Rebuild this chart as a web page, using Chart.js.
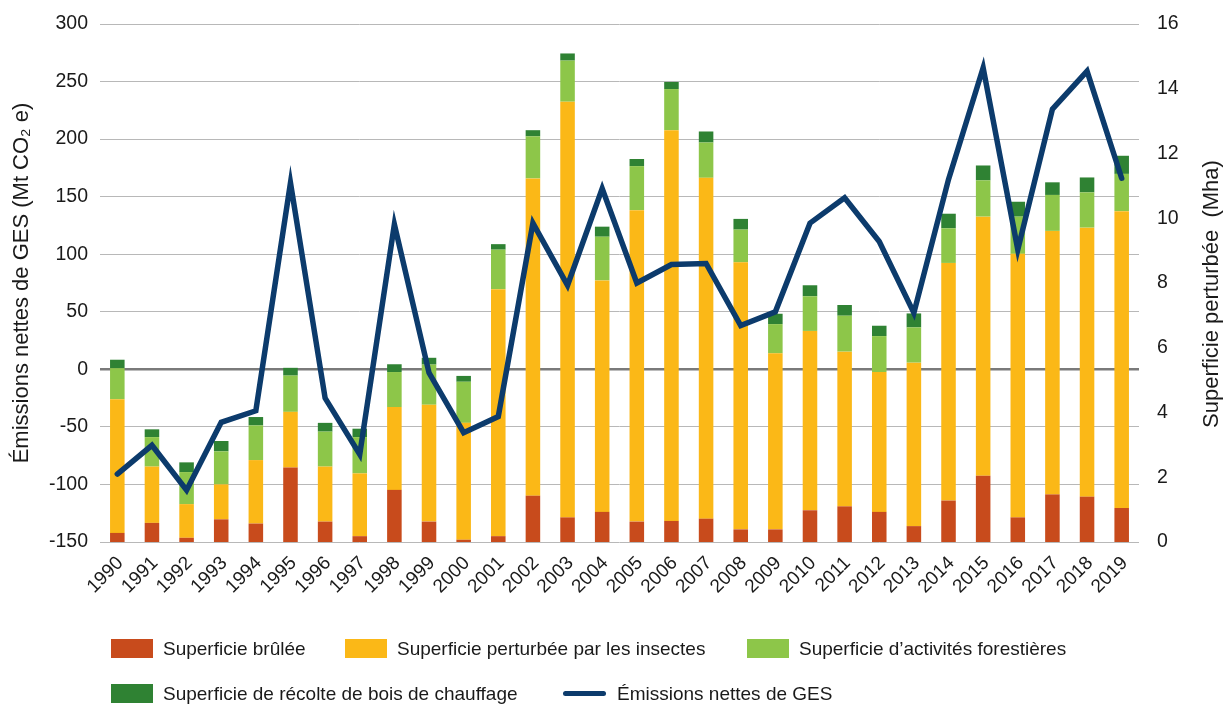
<!DOCTYPE html>
<html>
<head>
<meta charset="utf-8">
<script src="https://cdn.jsdelivr.net/npm/chart.js@4.4.1/dist/chart.umd.min.js"></script>
<style>
  html, body { margin: 0; padding: 0; background: #ffffff; }
  #wrap { position: relative; width: 1225px; height: 709px; overflow: hidden; font-family: "Liberation Sans", Arial, sans-serif; color: #1a1a1a; }
  #c { position: absolute; left: 0; top: 0; }
  .lg { position: absolute; font-size: 19px; line-height: 20px; white-space: nowrap; }
  .sw { position: absolute; width: 42px; height: 19px; }
  .ln { position: absolute; width: 43px; height: 5px; border-radius: 3px; }
</style>
</head>
<body>
<div id="wrap">
  <canvas id="c" width="1225" height="709"></canvas>
</div>
<script>
// ---- Data ----
const years = ["1990","1991","1992","1993","1994","1995","1996","1997","1998","1999",
               "2000","2001","2002","2003","2004","2005","2006","2007","2008","2009",
               "2010","2011","2012","2013","2014","2015","2016","2017","2018","2019"];

// Superficie brûlée (Mha)
const burned = [0.28,0.59,0.13,0.70,0.57,2.30,0.63,0.18,1.61,0.63,
                0.07,0.18,1.43,0.76,0.93,0.63,0.65,0.72,0.39,0.39,
                0.98,1.10,0.93,0.49,1.28,2.05,0.76,1.47,1.40,1.05];
// Superficie perturbée par les insectes (Mha)
const insects = [4.13,1.74,1.04,1.08,1.96,1.72,1.70,1.94,2.56,3.61,
                 3.61,7.63,9.80,12.84,7.15,9.62,12.07,10.53,8.25,5.44,
                 5.54,4.78,4.32,5.05,7.34,8.00,8.14,8.14,8.31,9.17];
// Superficie d'activités forestières (Mha)
const forestry = [0.96,0.91,0.99,1.02,1.07,1.12,1.08,1.12,1.08,1.24,
                  1.27,1.22,1.30,1.27,1.35,1.36,1.27,1.09,1.01,0.90,
                  1.07,1.11,1.11,1.09,1.07,1.12,1.15,1.11,1.09,1.15];
// Superficie de récolte de bois de chauffage (Mha)
const fuelwood = [0.26,0.24,0.30,0.32,0.26,0.24,0.27,0.26,0.24,0.21,
                  0.18,0.17,0.19,0.22,0.31,0.22,0.22,0.34,0.33,0.32,
                  0.34,0.33,0.32,0.43,0.45,0.46,0.46,0.39,0.46,0.56];
// Émissions nettes de GES (Mt CO2 e)
const emissions = [-91,-66,-105,-46,-36,162,-25,-74,126,-3,
                   -55,-41,127,73,157,75,91,92,38,50,
                   127,149,111,49,165,262,104,226,259,166];

const leftTicks = [-150,-100,-50,0,50,100,150,200,250,300];
const rightTicks = [0,2,4,6,8,10,12,14,16];

const seriesNames = [
  "Superficie brûlée",
  "Superficie perturbée par les insectes",
  "Superficie d\u2019activités forestières",
  "Superficie de récolte de bois de chauffage",
  "Émissions nettes de GES"
];
const leftTitle = "Émissions nettes de GES (Mt CO\u2082 e)";
const rightTitle = "Superficie perturbée  (Mha)";

// ---- Styles ----
const colors = ["#C84B1C", "#FBB817", "#8DC649", "#2F8233", "#0C3B6C"];
const FONT = "'Liberation Sans', Arial, sans-serif";
const TXT = "#1a1a1a";

Chart.defaults.font.family = FONT;
Chart.defaults.color = TXT;

const rightTitlePlugin = {
  id: "rightTitle",
  afterDraw(chart) {
    const ctx = chart.ctx;
    ctx.save();
    ctx.translate(1212, 294);
    ctx.rotate(-Math.PI / 2);
    ctx.font = "22px " + FONT;
    ctx.fillStyle = TXT;
    ctx.textAlign = "center";
    ctx.textBaseline = "middle";
    ctx.fillText(rightTitle, 0, 0);
    ctx.restore();
  }
};

function zeroVPad(s) { s.paddingTop = 0; s.paddingBottom = 0; }

const barDefaults = { yAxisID: "y2", categoryPercentage: 1.0, barPercentage: 0.42, borderWidth: 0, order: 2 };

new Chart(document.getElementById("c"), {
  type: "bar",
  data: {
    labels: years,
    datasets: [
      Object.assign({ label: seriesNames[0], data: burned, backgroundColor: colors[0] }, barDefaults),
      Object.assign({ label: seriesNames[1], data: insects, backgroundColor: colors[1] }, barDefaults),
      Object.assign({ label: seriesNames[2], data: forestry, backgroundColor: colors[2] }, barDefaults),
      Object.assign({ label: seriesNames[3], data: fuelwood, backgroundColor: colors[3] }, barDefaults),
      {
        type: "line", label: seriesNames[4], data: emissions, yAxisID: "y",
        borderColor: colors[4], backgroundColor: colors[4], borderWidth: 5.5,
        pointRadius: 0, tension: 0, fill: false, order: 0,
        borderJoinStyle: "miter", borderCapStyle: "round"
      }
    ]
  },
  options: {
    responsive: false,
    devicePixelRatio: 1,
    animation: false,
    layout: { padding: { top: 24, left: 0, right: 0, bottom: 0 } },
    plugins: { legend: { display: false }, tooltip: { enabled: false } },
    scales: {
      x: {
        stacked: true,
        grid: { display: false, drawTicks: false },
        border: { display: false },
        ticks: { autoSkip: false, minRotation: 45, maxRotation: 45, padding: 10, labelOffset: 3, font: { size: 19 }, color: TXT },
        afterFit(s) { s.height = 167; s.paddingLeft = 0; s.paddingRight = 0; }
      },
      y: {
        position: "left",
        min: -150, max: 300,
        afterBuildTicks(s) { s.ticks = leftTicks.map(v => ({ value: v })); },
        grid: {
          drawTicks: false,
          color: c => (c.tick && c.tick.value === 0) ? "#7a7a7a" : "#b8b8b8",
          lineWidth: c => (c.tick && c.tick.value === 0) ? 2.5 : 1
        },
        border: { display: false },
        ticks: { padding: 12, font: { size: 19.5 }, color: TXT },
        title: { display: true, text: leftTitle, font: { size: 22 }, color: TXT, padding: { top: 9, bottom: 0 } },
        afterFit(s) { s.width = 100; zeroVPad(s); }
      },
      y2: {
        position: "right",
        stacked: true,
        min: 0, max: 16,
        afterBuildTicks(s) { s.ticks = rightTicks.map(v => ({ value: v })); },
        grid: { display: false, drawTicks: false },
        border: { display: false },
        ticks: { padding: 18, font: { size: 19.5 }, color: TXT },
        afterFit(s) { s.width = 86; zeroVPad(s); }
      }
    }
  },
  plugins: [rightTitlePlugin]
});

// ---- HTML legend ----
const wrap = document.getElementById("wrap");
const legendItems = [
  { i: 0, kind: "box", sx: 111, sy: 639, tx: 163, ty: 639 },
  { i: 1, kind: "box", sx: 345, sy: 639, tx: 397, ty: 639 },
  { i: 2, kind: "box", sx: 747, sy: 639, tx: 799, ty: 639 },
  { i: 3, kind: "box", sx: 111, sy: 684, tx: 163, ty: 684 },
  { i: 4, kind: "line", sx: 563, sy: 691, tx: 617, ty: 684 }
];
legendItems.forEach(it => {
  const sw = document.createElement("div");
  sw.className = it.kind === "box" ? "sw" : "ln";
  sw.style.left = it.sx + "px";
  sw.style.top = it.sy + "px";
  sw.style.background = colors[it.i];
  wrap.appendChild(sw);
  const t = document.createElement("div");
  t.className = "lg";
  t.style.left = it.tx + "px";
  t.style.top = it.ty + "px";
  t.textContent = seriesNames[it.i];
  wrap.appendChild(t);
});
</script>
</body>
</html>
